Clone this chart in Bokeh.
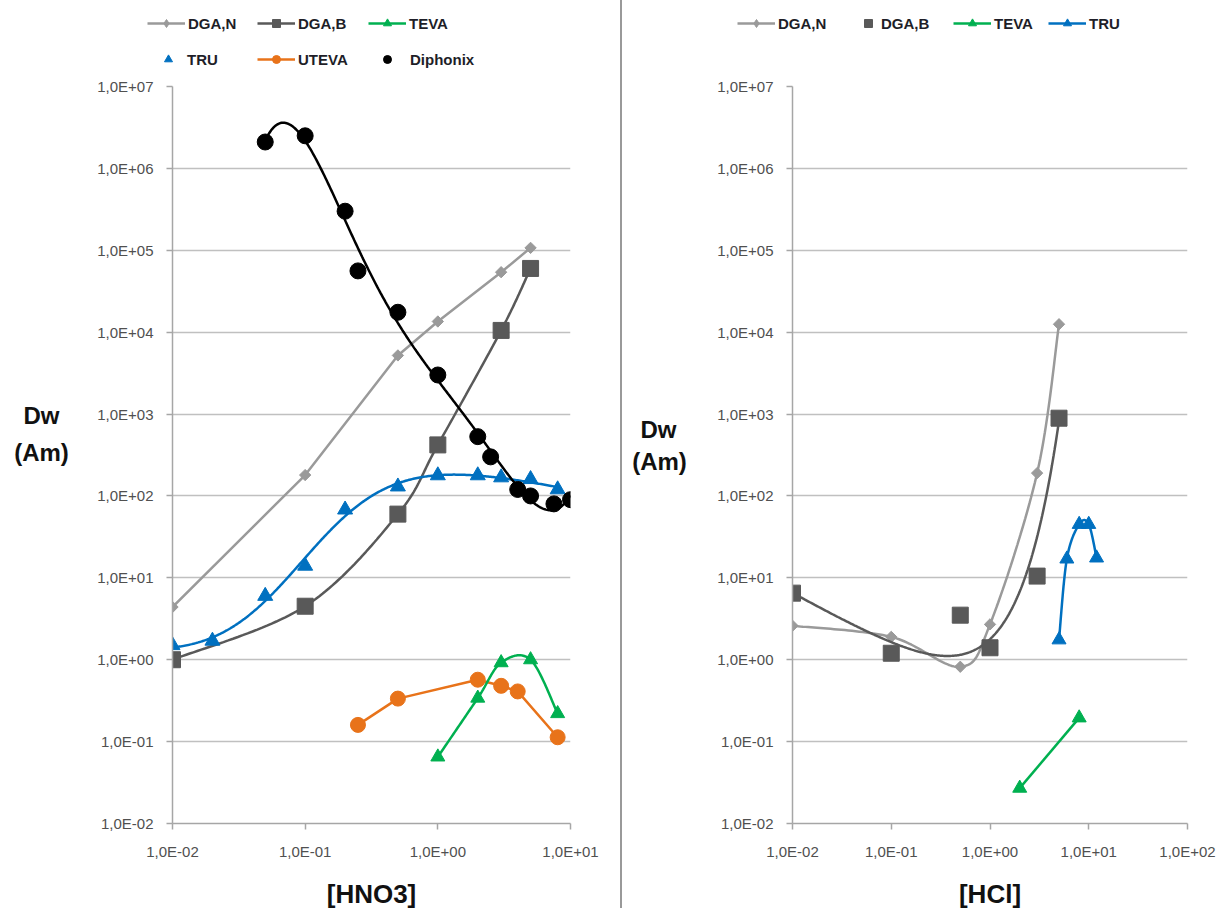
import numpy as np
from bokeh.plotting import figure
from bokeh.models import (Range1d, FixedTicker, CustomJSTickFormatter, Label,
                          Legend, LegendItem, Div)
from bokeh.layouts import row, column
from bokeh.embed import file_html
from bokeh.resources import INLINE

# ---- axis ticks -------------------------------------------------------------
Y_TICKS = [1e-2, 1e-1, 1e0, 1e1, 1e2, 1e3, 1e4, 1e5, 1e6, 1e7]
Y_TICK_LABELS = ["1,0E-02", "1,0E-01", "1,0E+00", "1,0E+01", "1,0E+02",
                 "1,0E+03", "1,0E+04", "1,0E+05", "1,0E+06", "1,0E+07"]
X_TICKS_HNO3 = [1e-2, 1e-1, 1e0, 1e1]
X_TICK_LABELS_HNO3 = ["1,0E-02", "1,0E-01", "1,0E+00", "1,0E+01"]
X_TICKS_HCL = [1e-2, 1e-1, 1e0, 1e1, 1e2]
X_TICK_LABELS_HCL = ["1,0E-02", "1,0E-01", "1,0E+00", "1,0E+01", "1,0E+02"]

# ---- Am uptake from HNO3 ----------------------------------------------------
HNO3_DGAN_X = [0.01, 0.1, 0.5, 1, 3, 5]
HNO3_DGAN_Y = [4.4, 180, 5200, 13500, 54000, 107000]
HNO3_DGAB_X = [0.01, 0.1, 0.5, 1, 3, 5]
HNO3_DGAB_Y = [1.0, 4.5, 60, 420, 10500, 60000]
HNO3_TEVA_X = [1, 2, 3, 5, 8]
HNO3_TEVA_Y = [0.065, 0.34, 0.92, 1.0, 0.22]
HNO3_TRU_X = [0.01, 0.02, 0.05, 0.1, 0.2, 0.5, 1, 2, 3, 5, 8]
HNO3_TRU_Y = [1.5, 1.7, 6.0, 14, 68, 130, 178, 178, 168, 160, 120]
HNO3_UTEVA_X = [0.25, 0.5, 2, 3, 4, 8]
HNO3_UTEVA_Y = [0.16, 0.335, 0.57, 0.48, 0.41, 0.113]
HNO3_DIPH_X = [0.05, 0.1, 0.2, 0.25, 0.5, 1, 2, 2.5, 4, 5, 7.5, 10]
HNO3_DIPH_Y = [2.1e6, 2.5e6, 3.0e5, 5.6e4, 1.75e4, 3.0e3, 530, 300, 120, 100, 80, 90]

# ---- Am uptake from HCl -----------------------------------------------------
HCL_DGAN_X = [0.01, 0.1, 0.5, 1, 3, 5]
HCL_DGAN_Y = [2.6, 1.9, 0.82, 2.7, 190, 12500]
HCL_DGAB_X = [0.01, 0.1, 0.5, 1, 3, 5]
HCL_DGAB_Y = [6.5, 1.2, 3.5, 1.4, 10.5, 890]
HCL_TEVA_X = [2, 8]
HCL_TEVA_Y = [0.027, 0.195]
HCL_TRU_X = [5, 6, 8, 10, 12]
HCL_TRU_Y = [1.75, 17, 45, 45, 17.5]

# ---- styling ----------------------------------------------------------------
FONT = "Liberation Sans"
C_DGAN = "#9a9a9a"
C_DGAB = "#595959"
C_TEVA = "#00b050"
C_TRU = "#0070c0"
C_UTEVA = "#e8731a"
C_DIPH = "#000000"
LW = 2.5

WIN_H = 908
KEY_H = 76            # legend strip on top of each panel
PANEL_TOP = 10        # room for the top tick label
FRAME_H = 737
FRAME_TOP = KEY_H + PANEL_TOP
FRAME_BOTTOM = FRAME_TOP + FRAME_H
PANEL_H = WIN_H - KEY_H


def smooth_curve(xs, ys, steps=32):
    """Bezier smoothing through the points, computed in log-log space."""
    P = np.column_stack([np.log10(np.asarray(xs, float)),
                         np.log10(np.asarray(ys, float))])
    n = len(P)
    out = [P[0]]
    t = np.linspace(0, 1, steps + 1)[1:, None]
    for i in range(n - 1):
        p0 = P[i - 1] if i > 0 else P[i]
        p1, p2 = P[i], P[i + 1]
        p3 = P[i + 2] if i + 2 < n else P[i + 1]
        c1 = p1 + (p2 - p0) / 6.0
        c2 = p2 - (p3 - p1) / 6.0
        seg = ((1 - t) ** 3) * p1 + 3 * ((1 - t) ** 2) * t * c1 \
            + 3 * (1 - t) * t ** 2 * c2 + t ** 3 * p2
        out.extend(seg)
    out = np.array(out)
    return 10 ** out[:, 0], 10 ** out[:, 1]


def poly_trend(xs, ys, degree, steps=300):
    """Polynomial trend line fitted in log-log space."""
    lx = np.log10(np.asarray(xs, float))
    ly = np.log10(np.asarray(ys, float))
    coef = np.polyfit(lx, ly, degree)
    gx = np.linspace(lx.min(), lx.max(), steps)
    return 10 ** gx, 10 ** np.polyval(coef, gx)


def sigmoid_trend(xs, ys, steps=300):
    """Trend log y = a + b*tanh((log x - c)/d) + e*log x, best (c, d) on a grid."""
    lx = np.log10(np.asarray(xs, float))
    ly = np.log10(np.asarray(ys, float))
    best = None
    for c in np.linspace(-2.0, 0.5, 101):
        for d in np.linspace(0.1, 1.5, 57):
            A = np.column_stack([np.ones_like(lx), np.tanh((lx - c) / d), lx])
            coef, *_ = np.linalg.lstsq(A, ly, rcond=None)
            err = float(np.sum((A @ coef - ly) ** 2))
            if best is None or err < best[0]:
                best = (err, c, d, coef)
    _, c, d, coef = best
    gx = np.linspace(lx.min(), lx.max(), steps)
    gy = coef[0] + coef[1] * np.tanh((gx - c) / d) + coef[2] * gx
    return 10 ** gx, 10 ** gy


def powexp_trend(xs, ys, steps=300):
    """Trend y = A * x**b * exp(c*x), least squares in log y (ends weighted)."""
    x = np.asarray(xs, float)
    lx = np.log10(x)
    ly = np.log10(np.asarray(ys, float))
    w = np.ones_like(lx)
    w[0] = w[-1] = 3.0
    A = np.column_stack([np.ones_like(lx), lx, x])
    coef, *_ = np.linalg.lstsq(A * w[:, None], ly * w, rcond=None)
    gx = np.linspace(lx.min(), lx.max(), steps)
    gy = coef[0] + coef[1] * gx + coef[2] * 10 ** gx
    return 10 ** gx, 10 ** gy


def tick_formatter(tick_values, tick_labels):
    return CustomJSTickFormatter(
        args=dict(tvals=tick_values, tlabels=tick_labels), code="""
        let best = 0, d = Infinity;
        for (let i = 0; i < tvals.length; i++) {
            const e = Math.abs(Math.log10(tvals[i]) - Math.log10(tick));
            if (e < d) { d = e; best = i; }
        }
        return tlabels[best];
    """)


def make_panel(x_lo, x_hi, x_ticks, x_labels, left, frame_w, right, x_title):
    p = figure(x_axis_type="log", y_axis_type="log",
               x_range=Range1d(x_lo, x_hi), y_range=Range1d(1e-2, 1e7),
               frame_width=frame_w, frame_height=FRAME_H,
               min_border_left=left, min_border_right=right,
               min_border_top=PANEL_TOP, min_border_bottom=WIN_H - FRAME_BOTTOM,
               output_backend="svg", toolbar_location=None,
               background_fill_color="white", border_fill_color="white")
    p.outline_line_color = None
    p.xgrid.visible = False
    p.ygrid.ticker = FixedTicker(ticks=Y_TICKS, minor_ticks=[])
    p.ygrid.grid_line_color = "#c0c0c0"
    p.ygrid.grid_line_width = 1.5
    p.xaxis.ticker = FixedTicker(ticks=x_ticks, minor_ticks=[])
    p.yaxis.ticker = FixedTicker(ticks=Y_TICKS, minor_ticks=[])
    p.xaxis.formatter = tick_formatter(x_ticks, x_labels)
    p.yaxis.formatter = tick_formatter(Y_TICKS, Y_TICK_LABELS)
    for ax in (p.xaxis, p.yaxis):
        ax.axis_line_color = "#a6a6a6"
        ax.axis_line_width = 1.5
        ax.major_tick_line_color = "#a6a6a6"
        ax.major_tick_line_width = 1.5
        ax.major_tick_out = 6
        ax.major_tick_in = 0
        ax.minor_tick_out = 0
        ax.minor_tick_in = 0
        ax.major_label_text_font = FONT
        ax.major_label_text_font_size = "15px"
        ax.major_label_text_color = "#505050"
        ax.major_label_standoff = 13
    p.xaxis.axis_label = x_title
    p.xaxis.axis_label_text_font = FONT
    p.xaxis.axis_label_text_font_size = "26px"
    p.xaxis.axis_label_text_font_style = "bold"
    p.xaxis.axis_label_text_color = "#111111"
    p.xaxis.axis_label_standoff = 16
    return p


def make_strip(width, height):
    """Plain drawing area with no axes."""
    s = figure(width=width, height=height,
               x_range=Range1d(0, width), y_range=Range1d(0, height),
               x_axis_location=None, y_axis_location=None, title=None,
               min_border=0, min_border_left=0, min_border_right=0,
               min_border_top=0, min_border_bottom=0,
               output_backend="svg", toolbar_location=None,
               background_fill_color="white", border_fill_color="white")
    s.outline_line_color = None
    s.grid.visible = False
    return s


def key_glyphs(s, color, marker, with_line):
    """Legend sample renderers styled like a series (they hold no points)."""
    rs = []
    if with_line:
        rs.append(s.line([np.nan], [np.nan], line_color=color, line_width=LW))
    rs.append(s.scatter([np.nan], [np.nan], marker=marker, size=10,
                        fill_color=color, line_color=color))
    return rs


def add_key(s, win_left, label, renderers, win_x, win_cy, glyph_w):
    leg = Legend(items=[LegendItem(label=label, renderers=renderers)],
                 location=(win_x - win_left, KEY_H - (win_cy + 10)),
                 orientation="horizontal", padding=0, spacing=0, margin=0,
                 glyph_width=glyph_w, glyph_height=20, label_height=20,
                 label_standoff=3, label_text_font=FONT,
                 label_text_font_size="15px", label_text_font_style="bold",
                 label_text_color="#1e1e28", border_line_color=None,
                 background_fill_alpha=0)
    s.add_layout(leg)


def add_title(s, win_left, text, win_x, win_y, size):
    # the side strip's frame lines up with the neighbouring panel's frame
    s.add_layout(Label(x=win_x - win_left, y=FRAME_BOTTOM - win_y,
                       x_units="screen", y_units="screen", text=text,
                       text_font=FONT, text_font_size=size,
                       text_font_style="bold", text_color="#111111",
                       text_align="center", text_baseline="middle"))


# ============================ HNO3 panel =====================================
pl = make_panel(1e-2, 1e1, X_TICKS_HNO3, X_TICK_LABELS_HNO3, 82, 398, 50, "[HNO3]")

pl.line(HNO3_DGAN_X, HNO3_DGAN_Y, line_color=C_DGAN, line_width=LW)
pl.scatter(HNO3_DGAN_X, HNO3_DGAN_Y, marker="square", angle=np.pi / 4,
           size=8, fill_color=C_DGAN, line_color=C_DGAN)

sx, sy = smooth_curve(HNO3_DGAB_X, HNO3_DGAB_Y)
pl.line(sx, sy, line_color=C_DGAB, line_width=LW)
pl.scatter(HNO3_DGAB_X, HNO3_DGAB_Y, marker="square", size=16,
           fill_color=C_DGAB, line_color=C_DGAB)

tx, ty = sigmoid_trend(HNO3_TRU_X, HNO3_TRU_Y)
pl.line(tx, ty, line_color=C_TRU, line_width=LW)
pl.scatter(HNO3_TRU_X, HNO3_TRU_Y, marker="triangle", size=15,
           fill_color=C_TRU, line_color=C_TRU)

tx, ty = poly_trend(HNO3_DIPH_X, HNO3_DIPH_Y, 5)
pl.line(tx, ty, line_color=C_DIPH, line_width=LW)
pl.scatter(HNO3_DIPH_X, HNO3_DIPH_Y, marker="circle", size=16,
           fill_color=C_DIPH, line_color=C_DIPH)

pl.line(HNO3_UTEVA_X, HNO3_UTEVA_Y, line_color=C_UTEVA, line_width=LW)
pl.scatter(HNO3_UTEVA_X, HNO3_UTEVA_Y, marker="circle", size=15,
           fill_color=C_UTEVA, line_color=C_UTEVA)

sx, sy = smooth_curve(HNO3_TEVA_X, HNO3_TEVA_Y)
pl.line(sx, sy, line_color=C_TEVA, line_width=LW)
pl.scatter(HNO3_TEVA_X, HNO3_TEVA_Y, marker="triangle", size=14,
           fill_color=C_TEVA, line_color=C_TEVA)

key_l = make_strip(620, KEY_H)
add_key(key_l, 0, "DGA,N", key_glyphs(key_l, C_DGAN, "diamond", True), 147, 23, 38)
add_key(key_l, 0, "DGA,B", key_glyphs(key_l, C_DGAB, "square", True), 257, 23, 38)
add_key(key_l, 0, "TEVA", key_glyphs(key_l, C_TEVA, "triangle", True), 368, 23, 38)
add_key(key_l, 0, "TRU", key_glyphs(key_l, C_TRU, "triangle", False), 152, 59, 32)
add_key(key_l, 0, "UTEVA", key_glyphs(key_l, C_UTEVA, "circle", True), 257, 59, 38)
add_key(key_l, 0, "Diphonix", key_glyphs(key_l, C_DIPH, "circle", False), 367, 59, 40)

side_l = make_strip(90, PANEL_H)
add_title(side_l, 0, "Dw", 41, 418, "24px")
add_title(side_l, 0, "(Am)", 41, 455, "24px")

# ============================ HCl panel ======================================
pr = make_panel(1e-2, 1e2, X_TICKS_HCL, X_TICK_LABELS_HCL, 90, 395, 35, "[HCl]")

sx, sy = smooth_curve(HCL_DGAN_X, HCL_DGAN_Y)
pr.line(sx, sy, line_color=C_DGAN, line_width=LW)
pr.scatter(HCL_DGAN_X, HCL_DGAN_Y, marker="square", angle=np.pi / 4,
           size=8, fill_color=C_DGAN, line_color=C_DGAN)

tx, ty = powexp_trend(HCL_DGAB_X, HCL_DGAB_Y)
pr.line(tx, ty, line_color=C_DGAB, line_width=LW)
pr.scatter(HCL_DGAB_X, HCL_DGAB_Y, marker="square", size=16,
           fill_color=C_DGAB, line_color=C_DGAB)

pr.line(HCL_TEVA_X, HCL_TEVA_Y, line_color=C_TEVA, line_width=LW)
pr.scatter(HCL_TEVA_X, HCL_TEVA_Y, marker="triangle", size=14,
           fill_color=C_TEVA, line_color=C_TEVA)

sx, sy = smooth_curve(HCL_TRU_X, HCL_TRU_Y)
pr.line(sx, sy, line_color=C_TRU, line_width=LW)
pr.scatter(HCL_TRU_X, HCL_TRU_Y, marker="triangle", size=14,
           fill_color=C_TRU, line_color=C_TRU)

key_r = make_strip(600, KEY_H)
add_key(key_r, 622, "DGA,N", key_glyphs(key_r, C_DGAN, "diamond", True), 737, 23, 38)
add_key(key_r, 622, "DGA,B", key_glyphs(key_r, C_DGAB, "square", False), 858, 23, 20)
add_key(key_r, 622, "TEVA", key_glyphs(key_r, C_TEVA, "triangle", True), 953, 23, 38)
add_key(key_r, 622, "TRU", key_glyphs(key_r, C_TRU, "triangle", True), 1048, 23, 38)

side_r = make_strip(80, PANEL_H)
add_title(side_r, 622, "Dw", 658, 432, "24px")
add_title(side_r, 622, "(Am)", 659, 464, "24px")

divider = Div(width=2, height=WIN_H, margin=0,
              styles={"background-color": "#999999"})

layout = row(column(key_l, row(side_l, pl)), divider,
             column(key_r, row(side_r, pr)))
open("out.html", "w").write(file_html(layout, INLINE))
